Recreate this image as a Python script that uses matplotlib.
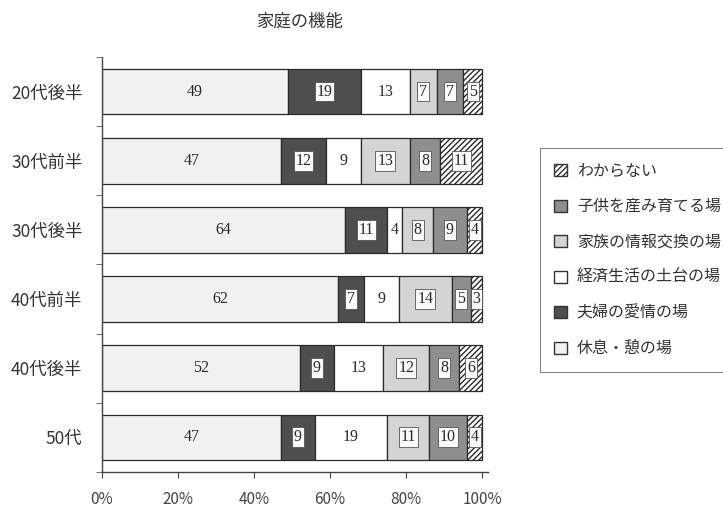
import matplotlib
matplotlib.use("Agg")
import matplotlib.pyplot as plt
from matplotlib.patches import Patch

plt.rcParams['font.family'] = ['Noto Sans CJK JP', 'DejaVu Sans']
plt.rcParams['hatch.linewidth'] = 1.0

# age groups, top to bottom
groups = ['20代後半', '30代前半', '30代後半', '40代前半', '40代後半', '50代']

# answer categories, left to right in each bar
categories = ['休息・憩の場', '夫婦の愛情の場', '経済生活の土台の場',
              '家族の情報交換の場', '子供を産み育てる場', 'わからない']

# percentages per category (one value per age group)
rest     = [49, 47, 64, 62, 52, 47]
couple   = [19, 12, 11, 7, 9, 9]
economy  = [13, 9, 4, 9, 13, 19]
info     = [7, 13, 8, 14, 12, 11]
children = [7, 8, 9, 5, 8, 10]
unknown  = [5, 11, 4, 3, 6, 4]

series = [rest, couple, economy, info, children, unknown]
colors = ['#f1f1ef', '#4e4e4e', '#ffffff', '#d4d4d2', '#8e8e8e', '#ffffff']
hatches = [None, None, None, None, None, '//////']
boxed = [False, True, False, True, True, True]

fig = plt.figure(figsize=(7.23, 5.13), dpi=100)
ax = fig.add_axes([0.141, 0.080, 0.534, 0.809])

ypos = list(range(len(groups)))
left = [0] * len(groups)
for vals, col, hat, box in zip(series, colors, hatches, boxed):
    bars = ax.barh(ypos, vals, left=left, height=0.66, color=col,
                   edgecolor='#2a2a2a', linewidth=0.9, hatch=hat)
    for b, v in zip(bars, vals):
        cx = b.get_x() + b.get_width() / 2
        kw = {}
        if box:
            kw['bbox'] = dict(boxstyle='square,pad=0.12', fc='#fafafa',
                              ec='#555555', lw=0.6)
        ax.text(cx, b.get_y() + b.get_height() / 2, str(v),
                ha='center', va='center', fontsize=11.5, color='#2a2a2a',
                family='Liberation Serif', **kw)
    left = [l + v for l, v in zip(left, vals)]

ax.set_xlim(0, 101.5)
ax.set_ylim(5.45, -0.5)
ax.set_xticks([0, 20, 40, 60, 80, 100])
ax.set_xticklabels(['0%', '20%', '40%', '60%', '80%', '100%'],
                   fontsize=11, color='#444444')
ax.tick_params(axis='x', length=4, color='#444444', pad=10)
ax.set_yticks(ypos)
ax.set_yticklabels(groups, fontsize=12.5, color='#333333')
ax.set_yticks([i + 0.5 for i in range(-1, len(groups))], minor=True)
ax.tick_params(axis='y', which='major', length=0, pad=14)
ax.tick_params(axis='y', which='minor', length=4, color='#555555')
for s in ['top', 'right']:
    ax.spines[s].set_visible(False)
for s in ['left', 'bottom']:
    ax.spines[s].set_color('#444444')
    ax.spines[s].set_linewidth(1.0)

fig.text(0.415, 0.958, '家庭の機能', ha='center', va='center',
         fontsize=12.5, color='#333333')

# legend lists categories in reverse order; the frame runs off the right edge
handles = [Patch(facecolor=c, edgecolor='#333333', hatch=h, label=n)
           for c, h, n in zip(colors, hatches, categories)][::-1]
leg = fig.legend(handles=handles, loc='upper left',
                 bbox_to_anchor=(0.747, 0.711), borderaxespad=0,
                 fontsize=11.5, frameon=True, fancybox=False,
                 edgecolor='#666666', handlelength=0.8, handleheight=0.8,
                 handletextpad=0.6, labelspacing=1.16, borderpad=0.9,
                 labelcolor='#333333')
leg.get_frame().set_linewidth(0.8)

fig.savefig('out.png', dpi=100, facecolor='white')
